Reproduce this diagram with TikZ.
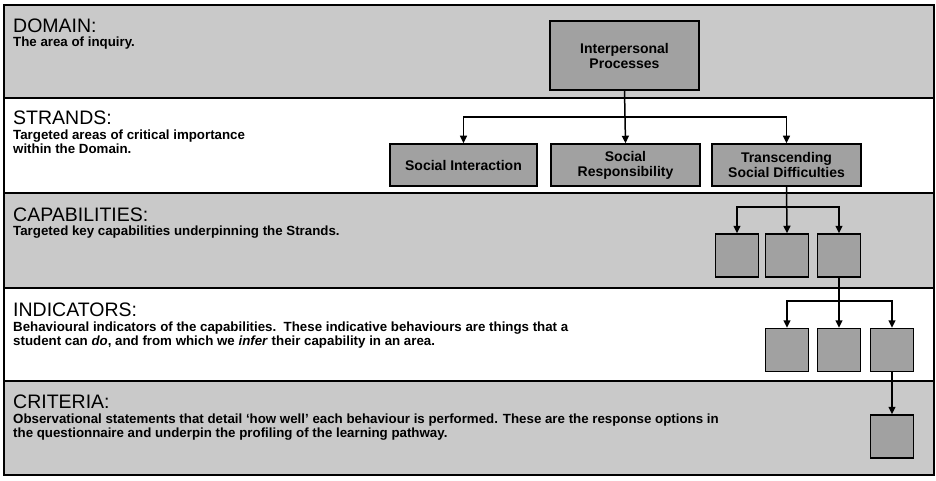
\documentclass[tikz,border=0pt]{standalone}
\usepackage{fontspec}
\setmainfont{Liberation Sans}
\usetikzlibrary{arrows.meta}
\definecolor{bandgray}{gray}{0.79}
\definecolor{boxgray}{gray}{0.63}
\begin{document}
\begin{tikzpicture}[x=1pt,y=-1pt,
  rule/.style={line width=1.5pt},
  head/.style={anchor=base west,inner sep=0pt,font=\fontsize{19.5}{21}\selectfont},
  body/.style={anchor=base west,inner sep=0pt,
    font=\fontsize{13.3}{14}\selectfont\bfseries},
  levelbox/.style={draw,fill=boxgray,line width=1.5pt,inner sep=0pt,
    align=center,font=\fontsize{14}{15}\selectfont\bfseries},
  sq/.style={draw,fill=boxgray,line width=1.5pt,inner sep=0pt,minimum size=43},
  arr/.style={line width=1.5pt,-{Triangle[length=7.5pt,width=7pt]}}]
\useasboundingbox (0,0) rectangle (936,481);

% shaded bands
\fill[bandgray] (4,5) rectangle (934,98);
\fill[bandgray] (4,193) rectangle (934,288);
\fill[bandgray] (4,381) rectangle (934,475);

% frame and band dividers
\draw[rule] (4,5) rectangle (934,475);
\draw[rule] (4,98) -- (934,98);
\draw[rule] (4,193) -- (934,193);
\draw[rule] (4,288) -- (934,288);
\draw[rule] (4,381) -- (934,381);

% level descriptions
\node[head] (hdomain) at (13,32.5) {DOMAIN:};
\node[body] (tdomain) at (13,47) {The area of inquiry.};

\node[head] (hstrands) at (13,125) {STRANDS:};
\node[body] (tstrands1) at (13,139.5) {Targeted areas of critical importance};
\node[body] (tstrands2) at (13,153.5) {within the Domain.};

\node[head] (hcap) at (13,221) {CAPABILITIES:};
\node[body] (tcap) at (13,235.5) {Targeted key capabilities underpinning the Strands.};

\node[head] (hind) at (13,316.5) {INDICATORS:};
\node[body] (tind1) at (13,331) {Behavioural indicators of the capabilities.\ \ These indicative behaviours are things that a};
\node[body] (tind2) at (13,345) {student can \textit{do}, and from which we \textit{infer} their capability in an area.};

\node[head] (hcrit) at (13,408.5) {CRITERIA:};
\node[body] (tcrit1) at (13,423) {Observational statements that detail ‘how well’ each behaviour is performed. These are the response options in};
\node[body] (tcrit2) at (13,437) {the questionnaire and underpin the profiling of the learning pathway.};

% domain and strands
\node[levelbox,minimum width=149,minimum height=69] (ip) at (624.5,55.5) {Interpersonal\\Processes};
\node[levelbox,minimum width=147,minimum height=42] (si) at (463.5,165) {Social Interaction};
\node[levelbox,minimum width=149,minimum height=42] (sr) at (625.5,165) {Social\\Responsibility};
\node[levelbox,minimum width=149,minimum height=42] (tsd) at (786.5,165) {Transcending\\Social Difficulties};

% capabilities
\node[sq] (c1) at (737,255.5) {};
\node[sq] (c2) at (787,255.5) {};
\node[sq] (c3) at (839,255.5) {};

% indicators
\node[sq] (i1) at (787,350) {};
\node[sq] (i2) at (839,350) {};
\node[sq] (i3) at (892,350) {};

% criteria
\node[sq] (k1) at (892,436.5) {};

% connectors
\coordinate (b1) at (625.5,117);
\draw[arr] (ip.south) -- (sr.north);
\draw[arr] (b1) -| (si.north);
\draw[arr] (b1) -| (tsd.north);

\coordinate (b2) at (787,207);
\draw[arr] (tsd.south) -- (c2.north);
\draw[arr] (b2) -| (c1.north);
\draw[arr] (b2) -| (c3.north);

\coordinate (b3) at (839,301);
\draw[arr] (c3.south) -- (i2.north);
\draw[arr] (b3) -| (i1.north);
\draw[arr] (b3) -| (i3.north);

\draw[arr] (i3.south) -- (k1.north);
\end{tikzpicture}
\end{document}
